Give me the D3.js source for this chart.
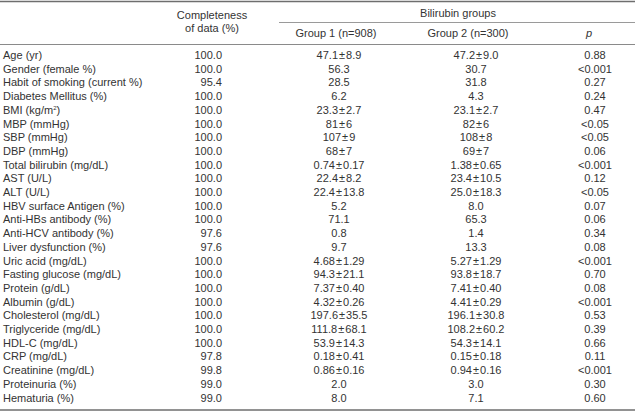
<!DOCTYPE html>
<html>
<head>
<meta charset="utf-8">
<script src="https://cdn.jsdelivr.net/npm/d3@7/dist/d3.min.js"></script>
<style>
  html, body { margin: 0; padding: 0; background: #fff; }
  svg { display: block; }
  text { font-family: "Liberation Sans", Arial, sans-serif; font-size: 11px; fill: #333; }
</style>
</head>
<body>
<div id="chart"></div>
<script>
const variables = [
  "Age (yr)", "Gender (female %)", "Habit of smoking (current %)", "Diabetes Mellitus (%)",
  "BMI (kg/m²)", "MBP (mmHg)", "SBP (mmHg)", "DBP (mmHg)", "Total bilirubin (mg/dL)",
  "AST (U/L)", "ALT (U/L)", "HBV surface Antigen (%)", "Anti-HBs antibody (%)",
  "Anti-HCV antibody (%)", "Liver dysfunction (%)", "Uric acid (mg/dL)",
  "Fasting glucose (mg/dL)", "Protein (g/dL)", "Albumin (g/dL)", "Cholesterol (mg/dL)",
  "Triglyceride (mg/dL)", "HDL-C (mg/dL)", "CRP (mg/dL)", "Creatinine (mg/dL)",
  "Proteinuria (%)", "Hematuria (%)"
];
const completeness = [
  "100.0", "100.0", "95.4", "100.0", "100.0", "100.0", "100.0", "100.0", "100.0",
  "100.0", "100.0", "100.0", "100.0", "97.6", "97.6", "100.0", "100.0", "100.0",
  "100.0", "100.0", "100.0", "100.0", "97.8", "99.8", "99.0", "99.0"
];
const group1 = [
  "47.1±8.9", "56.3", "28.5", "6.2", "23.3±2.7", "81±6", "107±9", "68±7", "0.74±0.17",
  "22.4±8.2", "22.4±13.8", "5.2", "71.1", "0.8", "9.7", "4.68±1.29", "94.3±21.1",
  "7.37±0.40", "4.32±0.26", "197.6±35.5", "111.8±68.1", "53.9±14.3", "0.18±0.41",
  "0.86±0.16", "2.0", "8.0"
];
const group2 = [
  "47.2±9.0", "30.7", "31.8", "4.3", "23.1±2.7", "82±6", "108±8", "69±7", "1.38±0.65",
  "23.4±10.5", "25.0±18.3", "8.0", "65.3", "1.4", "13.3", "5.27±1.29", "93.8±18.7",
  "7.41±0.40", "4.41±0.29", "196.1±30.8", "108.2±60.2", "54.3±14.1", "0.15±0.18",
  "0.94±0.16", "3.0", "7.1"
];
const pValues = [
  "0.88", "<0.001", "0.27", "0.24", "0.47", "<0.05", "<0.05", "0.06", "<0.001",
  "0.12", "<0.05", "0.07", "0.06", "0.34", "0.08", "<0.001", "0.70", "0.08",
  "<0.001", "0.53", "0.39", "0.66", "0.11", "<0.001", "0.30", "0.60"
];
const headerGroup = "Bilirubin groups";
const headerCols = ["Group 1 (n=908)", "Group 2 (n=300)", "p"];

const W = 635, H = 412;
const svg = d3.select("#chart").append("svg").attr("width", W).attr("height", H);

const y = d3.scaleLinear().domain([0, variables.length - 1]).range([55, 397.5]);
const colX = { label: 3, comp: 222, g1: 339, g2: 476, p: 595 };

// rules
svg.append("line").attr("x1", 0).attr("x2", W).attr("y1", 1.5).attr("y2", 1.5)
  .attr("stroke", "#6e6e6e").attr("stroke-width", 1.6);
svg.append("line").attr("x1", 279).attr("x2", W).attr("y1", 22.5).attr("y2", 22.5)
  .attr("stroke", "#9a9a9a").attr("stroke-width", 1);
svg.append("line").attr("x1", 0).attr("x2", W).attr("y1", 44.5).attr("y2", 44.5)
  .attr("stroke", "#8a8a8a").attr("stroke-width", 1);
svg.append("line").attr("x1", 0).attr("x2", W).attr("y1", 410).attr("y2", 410)
  .attr("stroke", "#6e6e6e").attr("stroke-width", 1.6);

// header
const hdr = svg.append("g");
hdr.append("text").attr("x", 212).attr("y", 19).attr("text-anchor", "middle").text("Completeness");
hdr.append("text").attr("x", 212).attr("y", 32).attr("text-anchor", "middle").text("of data (%)");
hdr.append("text").attr("x", 458).attr("y", 17).attr("text-anchor", "middle").text(headerGroup);
hdr.append("text").attr("x", 336).attr("y", 37).attr("text-anchor", "middle").text(headerCols[0]);
hdr.append("text").attr("x", 468).attr("y", 37).attr("text-anchor", "middle").text(headerCols[1]);
hdr.append("text").attr("x", 589).attr("y", 37).attr("text-anchor", "middle")
  .style("font-style", "italic").text(headerCols[2]);

function pm(sel, s) {
  const parts = s.split("±");
  if (parts.length === 2) {
    sel.append("tspan").text(parts[0]);
    sel.append("tspan").attr("dx", 1).text("±");
    sel.append("tspan").attr("dx", 1).text(parts[1]);
  } else sel.text(s);
}

// rows
const rows = svg.append("g").selectAll("g").data(variables).join("g")
  .attr("transform", (d, i) => `translate(0,${y(i) + 4})`);

rows.append("text").attr("x", colX.label).each(function(d) {
  const t = d3.select(this);
  const m = d.match(/^(.*)²(.*)$/);
  if (m) {
    t.append("tspan").text(m[1]);
    t.append("tspan").attr("dy", -4).style("font-size", "6px").text("2");
    t.append("tspan").attr("dy", 4).text(m[2]);
  } else t.text(d);
});
rows.append("text").attr("x", colX.comp).attr("text-anchor", "end").text((d, i) => completeness[i]);
rows.append("text").attr("x", colX.g1).attr("text-anchor", "middle").each(function(d, i) { pm(d3.select(this), group1[i]); });
rows.append("text").attr("x", colX.g2).attr("text-anchor", "middle").each(function(d, i) { pm(d3.select(this), group2[i]); });
rows.append("text").attr("x", colX.p).attr("text-anchor", "middle").text((d, i) => pValues[i]);
</script>
</body>
</html>
